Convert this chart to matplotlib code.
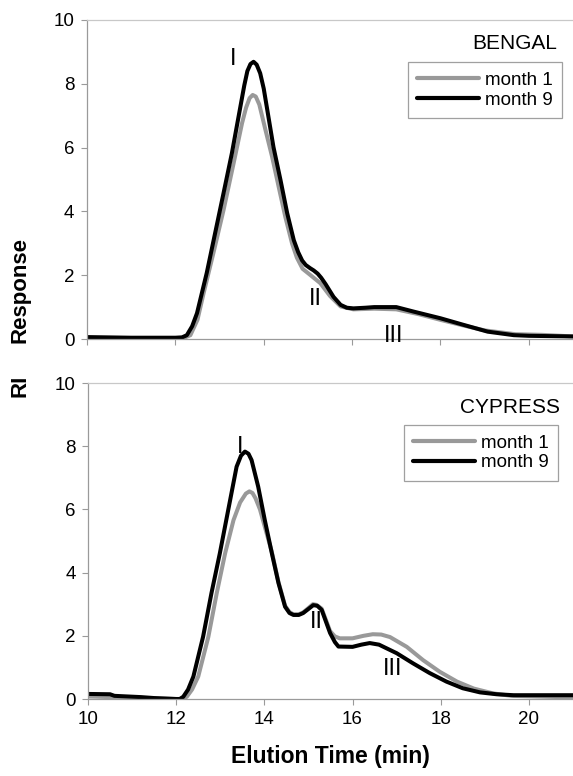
import matplotlib
matplotlib.use("Agg")
import matplotlib.pyplot as plt

plt.rcParams['font.family'] = ['Liberation Sans', 'DejaVu Sans']

# ---------------- data ----------------
panel_names = ["BENGAL", "CYPRESS"]
series_labels = ["month 1", "month 9"]

# BENGAL
x_bengal_m1 = [10.0, 11.0, 12.0, 12.2, 12.34, 12.5, 12.64, 12.86, 13.09, 13.32, 13.51, 13.6, 13.68,
               13.75, 13.82, 13.9, 14.04, 14.19, 14.34, 14.49, 14.64, 14.75, 14.88, 15.06, 15.28,
               15.5, 15.74, 16.03, 16.5, 17.0, 17.5, 18.0, 18.5, 19.0, 19.7, 20.3, 21.0]
y_bengal_m1 = [0.03, 0.03, 0.03, 0.04, 0.12, 0.6, 1.44, 2.69, 4.04, 5.52, 6.77, 7.25, 7.55,
               7.65, 7.6, 7.35, 6.55, 5.71, 4.76, 3.82, 3.0, 2.55, 2.2, 2.0, 1.75,
               1.35, 1.02, 0.93, 0.95, 0.93, 0.78, 0.6, 0.43, 0.27, 0.15, 0.13, 0.08]

x_bengal_m9 = [10.0, 10.5, 11.0, 11.5, 12.0, 12.15, 12.26, 12.38, 12.49, 12.71, 12.90, 13.09,
               13.28, 13.47, 13.56, 13.63, 13.7, 13.77, 13.84, 13.92, 14.0, 14.07, 14.22, 14.38,
               14.53, 14.68, 14.78, 14.87, 14.95, 15.05, 15.13, 15.22, 15.3, 15.4, 15.58, 15.74,
               15.88, 16.03, 16.3, 16.5, 17.0, 17.39, 18.0, 18.53, 19.07, 19.66, 20.0, 21.0]
y_bengal_m9 = [0.06, 0.05, 0.04, 0.04, 0.04, 0.05, 0.12, 0.4, 0.81, 2.07, 3.32, 4.57,
               5.83, 7.27, 7.95, 8.4, 8.62, 8.69, 8.6, 8.33, 7.85, 7.27, 6.02, 4.98,
               3.95, 3.10, 2.72, 2.46, 2.32, 2.22, 2.15, 2.05, 1.92, 1.72, 1.32, 1.07,
               0.98, 0.96, 0.98, 1.0, 1.0, 0.86, 0.65, 0.44, 0.23, 0.12, 0.10, 0.08]

# CYPRESS
x_cypress_m1 = [10.0, 11.0, 12.0, 12.12, 12.24, 12.36, 12.50, 12.73, 12.92, 13.11, 13.30, 13.45,
                13.58, 13.66, 13.73, 13.8, 13.9, 14.01, 14.17, 14.32, 14.47, 14.57, 14.66, 14.78,
                14.88, 15.0, 15.1, 15.18, 15.30, 15.49, 15.6, 15.71, 16.0, 16.25, 16.46, 16.65,
                16.85, 17.23, 17.6, 17.98, 18.37, 18.75, 19.18, 19.6, 21.0]
y_cypress_m1 = [0.08, 0.04, 0.0, 0.0, 0.07, 0.3, 0.71, 1.97, 3.35, 4.61, 5.66, 6.22,
                6.5, 6.57, 6.52, 6.35, 6.0, 5.45, 4.65, 3.70, 2.95, 2.75, 2.68, 2.68,
                2.74, 2.88, 3.0, 2.98, 2.86, 2.15, 1.98, 1.92, 1.92, 2.0, 2.05, 2.04,
                1.96, 1.65, 1.23, 0.86, 0.55, 0.33, 0.18, 0.10, 0.05]

x_cypress_m9 = [10.0, 10.5, 10.6, 11.2, 11.5, 12.0, 12.08, 12.16, 12.27, 12.39, 12.61, 12.80,
                12.99, 13.18, 13.37, 13.47, 13.56, 13.64, 13.71, 13.86, 14.01, 14.17, 14.32,
                14.47, 14.57, 14.66, 14.78, 14.88, 15.0, 15.11, 15.2, 15.30, 15.49, 15.6, 15.68,
                16.0, 16.2, 16.39, 16.6, 17.0, 17.37, 17.75, 18.13, 18.5, 18.89, 19.27, 19.65, 21.0]
y_cypress_m9 = [0.16, 0.15, 0.10, 0.06, 0.03, 0.0, 0.0, 0.07, 0.3, 0.71, 1.97, 3.35,
                4.61, 5.98, 7.35, 7.7, 7.83, 7.76, 7.56, 6.72, 5.66, 4.61, 3.67,
                2.92, 2.72, 2.66, 2.66, 2.72, 2.85, 2.97, 2.95, 2.82, 2.09, 1.8, 1.66,
                1.65, 1.72, 1.77, 1.72, 1.45, 1.13, 0.82, 0.55, 0.34, 0.21, 0.15, 0.12, 0.12]

peak_labels = ["I", "II", "III"]
bengal_label_x = [13.31, 15.17, 16.93]
bengal_label_y = [8.78, 1.26, 0.08]
cypress_label_x = [13.45, 15.19, 16.92]
cypress_label_y = [7.97, 2.45, 0.95]

x_ticks = [10, 12, 14, 16, 18, 20]
y_ticks = [0, 2, 4, 6, 8, 10]

# ---------------- figure ----------------
W, H = 573, 776
fig = plt.figure(figsize=(W / 100, H / 100), dpi=100)

def fx(px):
    return px / W

def fy(py):
    return 1 - py / H

ax_top = fig.add_axes([fx(87), fy(339), fx(573) - fx(87), fy(20) - fy(339)])
ax_bot = fig.add_axes([fx(88), fy(699), fx(573) - fx(88), fy(383) - fy(699)])

GRAY = "#999999"
BLACK = "#000000"
SPINE = "#9a9a9a"

panels = [
    (ax_top, x_bengal_m1, y_bengal_m1, x_bengal_m9, y_bengal_m9, bengal_label_x, bengal_label_y,
     (0.967, 0.925), (0.977, 0.868)),
    (ax_bot, x_cypress_m1, y_cypress_m1, x_cypress_m9, y_cypress_m9, cypress_label_x, cypress_label_y,
     (0.973, 0.924), (0.969, 0.867)),
]

for i, (ax, x1, y1, x9, y9, lx, ly, title_pos, leg_pos) in enumerate(panels):
    ax.plot(x1, y1, color=GRAY, lw=2.9, solid_joinstyle='round', solid_capstyle='round',
            label=series_labels[0])
    ax.plot(x9, y9, color=BLACK, lw=2.9, solid_joinstyle='round', solid_capstyle='round',
            label=series_labels[1])
    ax.set_xlim(10, 21)
    ax.set_ylim(0, 10)
    ax.set_xticks(x_ticks)
    ax.set_yticks(y_ticks)
    ax.tick_params(axis='both', direction='out', length=4, width=0.8, color=SPINE,
                   labelsize=13.5, pad=5)
    ax.spines['right'].set_visible(False)
    for s in ['left', 'top', 'bottom']:
        ax.spines[s].set_color(SPINE)
        ax.spines[s].set_linewidth(0.9)
    ax.spines['top'].set_color("#c8c8c8")
    if i == 0:
        ax.tick_params(axis='x', labelbottom=False)
    for lab, tx, ty in zip(peak_labels, lx, ly):
        ax.text(tx, ty, lab, ha='center', va='center', fontsize=17)
    ax.text(title_pos[0], title_pos[1], panel_names[i], transform=ax.transAxes,
            ha='right', va='center', fontsize=15)
    leg = ax.legend(loc='upper right', bbox_to_anchor=leg_pos, borderaxespad=0,
                    fontsize=13.5, frameon=True, fancybox=False, handlelength=3.3,
                    handletextpad=0.3, borderpad=0.5, labelspacing=0.15)
    leg.get_frame().set_edgecolor("#888888")
    leg.get_frame().set_linewidth(0.9)
    for h in leg.get_lines():
        h.set_linewidth(3.0)

ax_bot.set_xlabel("Elution Time (min)", fontsize=16.5, fontweight='bold', labelpad=12)

fig.text(fx(20), fy(290), "Response", rotation=90, ha='center', va='center',
         fontsize=16, fontweight='bold')
fig.text(fx(20), fy(386), "RI", rotation=90, ha='center', va='center',
         fontsize=16, fontweight='bold')

fig.savefig("out.png", dpi=100)
